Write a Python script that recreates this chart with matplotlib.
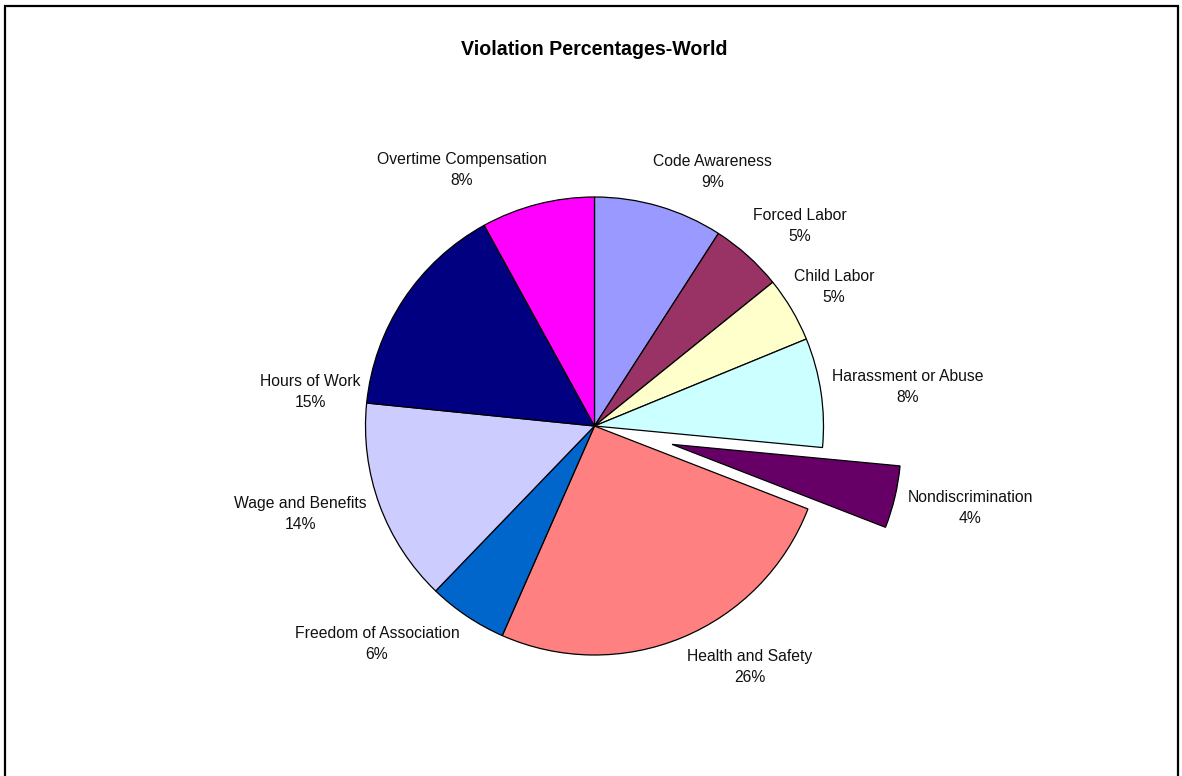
import matplotlib
matplotlib.use("Agg")
import matplotlib.pyplot as plt
from matplotlib.patches import Rectangle

plt.rcParams['font.family'] = ['Liberation Sans', 'DejaVu Sans']

# slices, clockwise from 12 o'clock
categories = ['Code Awareness', 'Forced Labor', 'Child Labor', 'Harassment or Abuse',
              'Nondiscrimination', 'Health and Safety', 'Freedom of Association',
              'Wage and Benefits', 'Hours of Work', 'Overtime Compensation']
percentages = [9.1, 5.1, 4.6, 7.7, 4.4, 25.7, 5.6, 14.4, 15.4, 8.0]
colors = ['#9999FF', '#993366', '#FFFFCC', '#CCFFFF', '#660066',
          '#FF8080', '#0066CC', '#CCCCFF', '#000080', '#FF00FF']
exploded = 'Nondiscrimination'

# label centres in pie-radius units (placed by hand in the original)
label_xy = [(0.517, 1.109), (0.897, 0.873), (1.046, 0.607), (1.369, 0.170),
            (1.640, -0.358), (0.679, -1.052), (-0.950, -0.952), (-1.286, -0.384),
            (-1.242, 0.148), (-0.579, 1.118)]

W, H = 1182, 776
cx, cy, r = 594.5, 426, 229

fig = plt.figure(figsize=(W / 100, H / 100), dpi=100)
ax = fig.add_axes([0, 0, 1, 1])

explode = [0.348 if c == exploded else 0 for c in categories]
ax.pie(percentages, colors=colors, explode=explode, startangle=90,
       counterclock=False, radius=1, center=(0, 0), frame=True,
       wedgeprops=dict(edgecolor='black', linewidth=0.9))
ax.set_xlim(-cx / r, (W - cx) / r)
ax.set_ylim(-(H - cy) / r, cy / r)
ax.set_aspect('auto')
ax.axis('off')

for name, val, (x, y) in zip(categories, percentages, label_xy):
    ax.text(x, y, f"{name}\n{round(val)}%", ha='center', va='center',
            fontsize=11.3, color='#111111', linespacing=1.45)

fig.text(cx / W, 1 - 55 / H, 'Violation Percentages-World', ha='center',
         va='baseline', fontsize=14.1, fontweight='bold')

fig.patches.append(Rectangle((5 / W, -0.02), (1178 - 5) / W, 1 - 6 / H + 0.02,
                             transform=fig.transFigure, fill=False,
                             edgecolor='black', linewidth=1.6))

fig.savefig('out.png', dpi=100)
